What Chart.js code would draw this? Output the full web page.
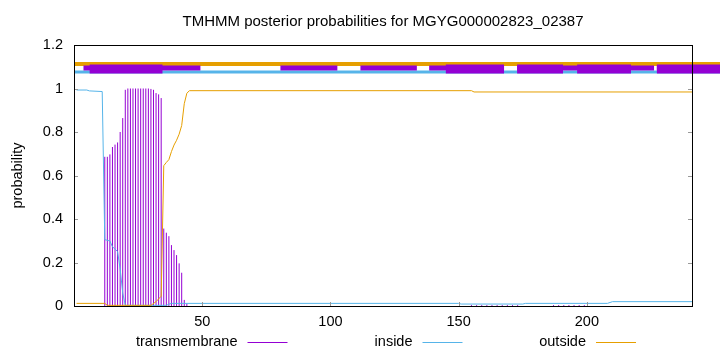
<!DOCTYPE html>
<html><head><meta charset="utf-8">
<script src="https://cdn.jsdelivr.net/npm/chart.js@4"></script>
<style>html,body{margin:0;padding:0;background:#fff}#wrap{width:720px;height:352px;position:relative}</style>
</head><body><div id="wrap"><canvas id="c" width="720" height="352"></canvas></div>
<script>
// ---------- data ----------
const titleText = "TMHMM posterior probabilities for MGYG000002823_02387";
const yTitle = "probability";
const seriesNames = ["transmembrane", "inside", "outside"];
const xTicks = [50, 100, 150, 200];
const xMin = 0, xMax = 241;
const yMin = 0, yMax = 1.2, yStep = 0.2;

// transmembrane posterior (impulses), residues 12..44
const tmStart = 12;
const tmValues = [0.686, 0.686, 0.697, 0.731, 0.742, 0.752, 0.80, 0.864, 0.994,
  1.0, 1.0, 1.0, 1.0, 1.0, 1.0, 1.0, 1.0, 1.0,
  0.998, 0.994, 0.979, 0.973, 0.956,
  0.356, 0.337, 0.321, 0.28, 0.257, 0.234, 0.196, 0.153, 0.028, 0.01];
// faint transmembrane impulses further along
const tmLowX = [155, 157, 159, 161, 163, 165, 167, 169, 171, 173, 187, 189, 191, 193, 195, 197, 199];
const tmLowY = [0.004, 0.004, 0.004, 0.004, 0.004, 0.004, 0.004, 0.004, 0.004, 0.004, 0.004, 0.004, 0.004, 0.004, 0.004, 0.004, 0.004];

// inside posterior (line)
const insideX = [1, 5, 6, 11, 12, 13, 14, 15, 16, 17, 18, 19, 20, 36, 37, 38, 150, 151, 175, 176, 208, 210, 241];
const insideY = [0.993, 0.993, 0.989, 0.986, 0.305, 0.302, 0.299, 0.272, 0.262, 0.25, 0.17, 0.06, 0.003, 0.003, 0.008, 0.012, 0.012, 0.009, 0.009, 0.012, 0.012, 0.02, 0.02];

// outside posterior (line)
const outsideX = [1, 12, 13, 30, 32, 34, 35, 36, 37, 38, 39, 40, 41, 42, 43, 44, 45, 155, 156, 241];
const outsideY = [0.012, 0.012, 0.003, 0.003, 0.02, 0.045, 0.645, 0.66, 0.673, 0.71, 0.74, 0.762, 0.79, 0.83, 0.93, 0.978, 0.99, 0.99, 0.984, 0.984];

// annotation bars above the plot
const outsideBarLevel = 1.113, tmBarLevel = 1.094, insideBarLevel = 1.076;
const outsideBarStart = [0.2], outsideBarEnd = [252];
const insideBarStart = [0.2], insideBarEnd = [252];
const tmBarStart = [3.7, 80.5, 111.7, 138.5, 172.8, 227.3];
const tmBarEnd = [49.3, 102.7, 133.7, 167.7, 226.2, 252];
const tmThickStart = [6.1, 145.0, 172.8, 196.2, 227.3];
const tmThickEnd = [34.5, 167.7, 190.7, 217.2, 252];

// ---------- build ----------
const COL_TM = '#9400D3', COL_IN = '#56B4E9', COL_OUT = '#E69F00';
const FONT = '"Liberation Sans", Arial, Helvetica, sans-serif';

function segs(starts, ends, level) {
  const d = [];
  starts.forEach((s, i) => { d.push({x: s, y: level}, {x: ends[i], y: level}, {x: ends[i], y: null}); });
  return d;
}
const impulses = [];
tmValues.forEach((v, i) => { const x = tmStart + i; impulses.push({x, y: 0}, {x, y: v}, {x, y: null}); });
tmLowX.forEach((x, i) => { impulses.push({x, y: 0}, {x, y: tmLowY[i]}, {x, y: null}); });
const insideData = insideX.map((x, i) => ({x, y: insideY[i]}));
const outsideData = outsideX.map((x, i) => ({x, y: outsideY[i]}));

const base = {pointRadius: 0, fill: false, tension: 0, spanGaps: false, borderCapStyle: 'butt'};
const datasets = [
  Object.assign({}, base, {label: seriesNames[0], data: impulses, borderColor: COL_TM, borderWidth: 1, order: 5}),
  Object.assign({}, base, {label: seriesNames[1], data: insideData, borderColor: COL_IN, borderWidth: 1, order: 4}),
  Object.assign({}, base, {label: seriesNames[2], data: outsideData, borderColor: COL_OUT, borderWidth: 1, order: 3}),
  Object.assign({}, base, {label: 'outsideBar', data: segs(outsideBarStart, outsideBarEnd, outsideBarLevel), borderColor: COL_OUT, borderWidth: 4, clip: false, order: 9}),
  Object.assign({}, base, {label: 'insideBar', data: segs(insideBarStart, insideBarEnd, insideBarLevel), borderColor: COL_IN, borderWidth: 3, clip: false, order: 8}),
  Object.assign({}, base, {label: 'tmBar', data: segs(tmBarStart, tmBarEnd, tmBarLevel), borderColor: COL_TM, borderWidth: 5, clip: false, order: 7}),
  Object.assign({}, base, {label: 'tmThick', data: segs(tmThickStart, tmThickEnd, tmBarLevel - 0.004), borderColor: COL_TM, borderWidth: 9, clip: false, order: 6})
];

const decor = {
  id: 'decor',
  afterDraw(chart) {
    const ctx = chart.ctx, a = chart.chartArea;
    const xs = chart.scales.x, ys = chart.scales.y;
    ctx.save();
    // inward ticks
    ctx.strokeStyle = '#999'; ctx.lineWidth = 1;
    xTicks.forEach(t => {
      const px = Math.round(xs.getPixelForValue(t)) + 0.5;
      ctx.beginPath(); ctx.moveTo(px, a.bottom); ctx.lineTo(px, a.bottom - 4); ctx.stroke();
    });
    ys.ticks.forEach(t => {
      const py = Math.round(ys.getPixelForValue(t.value)) + 0.5;
      ctx.beginPath(); ctx.moveTo(a.left, py); ctx.lineTo(a.left + 4, py); ctx.stroke();
      ctx.beginPath(); ctx.moveTo(a.right, py); ctx.lineTo(a.right - 4, py); ctx.stroke();
    });
    // border box
    ctx.strokeStyle = '#000'; ctx.lineWidth = 1;
    ctx.strokeRect(a.left + 0.5, a.top + 0.5, a.right - a.left, a.bottom - a.top);
    // title
    ctx.fillStyle = '#000';
    ctx.font = '15px ' + FONT;
    ctx.textAlign = 'center'; ctx.textBaseline = 'middle';
    ctx.fillText(titleText, (a.left + a.right) / 2, 22);
    ctx.font = '14.5px ' + FONT;
    // y title
    ctx.save();
    ctx.translate(18, (a.top + a.bottom) / 2);
    ctx.rotate(-Math.PI / 2);
    ctx.fillText(yTitle, 0, 0);
    ctx.restore();
    // legend
    const legendEnds = [237.5, 412.5, 586];
    const cols = [COL_TM, COL_IN, COL_OUT];
    const ly = 342;
    ctx.textAlign = 'right';
    seriesNames.forEach((n, i) => {
      ctx.fillStyle = '#000';
      ctx.fillText(n, legendEnds[i], ly);
      ctx.strokeStyle = cols[i]; ctx.lineWidth = 1;
      ctx.beginPath(); ctx.moveTo(legendEnds[i] + 10, ly + 0.5); ctx.lineTo(legendEnds[i] + 50, ly + 0.5); ctx.stroke();
    });
    ctx.restore();
  }
};

new Chart(document.getElementById('c'), {
  type: 'line',
  data: {datasets},
  options: {
    responsive: false, animation: false, devicePixelRatio: 1,
    layout: {padding: {left: 0, right: 28, top: 45, bottom: 0}},
    plugins: {legend: {display: false}, tooltip: {enabled: false}, title: {display: false}},
    scales: {
      x: {
        type: 'linear', min: xMin, max: xMax,
        grid: {display: false, drawTicks: false}, border: {display: false},
        afterBuildTicks: s => { s.ticks = xTicks.map(v => ({value: v})); },
        afterFit: s => { s.height = 46; },
        ticks: {padding: 7, color: '#000', font: {family: FONT, size: 14.5}, maxRotation: 0, autoSkip: false}
      },
      y: {
        type: 'linear', min: yMin, max: yMax,
        grid: {display: false, drawTicks: false}, border: {display: false},
        afterFit: s => { s.width = 74; },
        ticks: {stepSize: yStep, padding: 11, color: '#000', font: {family: FONT, size: 14.5},
          callback: v => String(parseFloat(v.toFixed(1)))}
      }
    }
  },
  plugins: [decor]
});
</script>
</body></html>
